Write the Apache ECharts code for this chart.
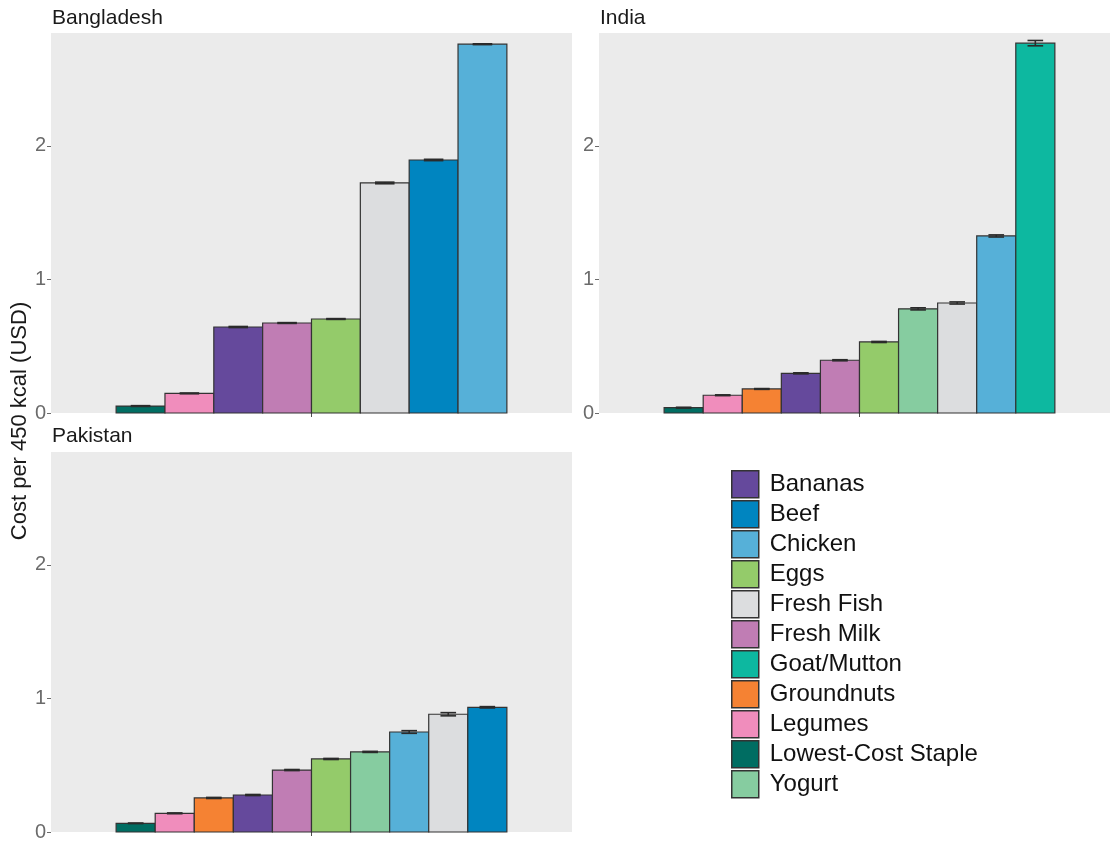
<!DOCTYPE html>
<html>
<head>
<meta charset="utf-8">
<script src="https://cdn.jsdelivr.net/npm/echarts@6/dist/echarts.min.js"></script>
<style>html,body{margin:0;padding:0;background:#fff}#c{width:1110px;height:843px}</style>
</head>
<body>
<div id="c"></div>
<script>
// ---- data ----
const foods = ["Bananas","Beef","Chicken","Eggs","Fresh Fish","Fresh Milk","Goat/Mutton","Groundnuts","Legumes","Lowest-Cost Staple","Yogurt"];
const foodColors = ["#65499c","#0085c0","#56b0d8","#94cb6a","#dcdddf","#c07db4","#0db8a0","#f58233","#f08dbc","#006d62","#86cca0"];

const bangladeshFoods = ["Lowest-Cost Staple","Legumes","Bananas","Fresh Milk","Eggs","Fresh Fish","Beef","Chicken"];
const bangladeshCost  = [0.052, 0.147, 0.644, 0.674, 0.704, 1.723, 1.895, 2.762];
const bangladeshErr   = [0.003, 0.003, 0.004, 0.003, 0.003, 0.006, 0.005, 0.003];

const indiaFoods = ["Lowest-Cost Staple","Legumes","Groundnuts","Bananas","Fresh Milk","Eggs","Yogurt","Fresh Fish","Chicken","Goat/Mutton"];
const indiaCost  = [0.040, 0.133, 0.180, 0.297, 0.395, 0.532, 0.780, 0.824, 1.326, 2.770];
const indiaErr   = [0.003, 0.003, 0.003, 0.004, 0.004, 0.004, 0.008, 0.008, 0.008, 0.020];

const pakistanFoods = ["Lowest-Cost Staple","Legumes","Groundnuts","Bananas","Fresh Milk","Eggs","Yogurt","Chicken","Fresh Fish","Beef"];
const pakistanCost  = [0.065, 0.140, 0.255, 0.277, 0.464, 0.547, 0.600, 0.749, 0.882, 0.934];
const pakistanErr   = [0.002, 0.003, 0.004, 0.004, 0.004, 0.004, 0.004, 0.010, 0.012, 0.005];

const yTicks = [0, 1, 2];
const panelTitles = ["Bangladesh", "India", "Pakistan"];
const yTitle = "Cost per 450 kcal (USD)";

// ---- build ----
const panels = [
  {foods: bangladeshFoods, cost: bangladeshCost, err: bangladeshErr},
  {foods: indiaFoods, cost: indiaCost, err: indiaErr},
  {foods: pakistanFoods, cost: pakistanCost, err: pakistanErr}
];
const gridPos = [
  {left: 51, top: 33, width: 521, height: 380},
  {left: 599, top: 33, width: 511, height: 380},
  {left: 51, top: 452, width: 521, height: 380}
];
const xMax = [1.6, 1.577, 1.6];
const YMAX = 2.846;

function colorOf(f){ return foodColors[foods.indexOf(f)]; }

const grids = gridPos.map(g => Object.assign({show: true, backgroundColor: '#ebebeb', borderWidth: 0, containLabel: false}, g));
const xAxes = gridPos.map((g, i) => ({
  type: 'value', gridIndex: i, min: 0.4, max: xMax[i],
  axisLine: {show: false}, splitLine: {show: false},
  axisTick: {show: true, customValues: [1], length: 4, lineStyle: {color: '#4d4d4d'}},
  axisLabel: {show: false}
}));
const yAxes = gridPos.map((g, i) => ({
  type: 'value', gridIndex: i, min: 0, max: YMAX,
  axisLine: {show: false}, splitLine: {show: false},
  axisTick: {show: true, customValues: yTicks, length: 4, lineStyle: {color: '#6b6b6b'}},
  axisLabel: {show: true, customValues: yTicks, fontSize: 20, color: '#6b6b6b', margin: 5, fontFamily: 'Liberation Sans, Arial'}
}));

function renderBar(params, api){
  const xc = api.value(0), v = api.value(1), e = api.value(2), w = api.value(3);
  const p0 = api.coord([xc - w/2, v]);
  const p1 = api.coord([xc + w/2, 0]);
  const capHalf = (p1[0] - p0[0]) * 0.2;
  const cx = (p0[0] + p1[0]) / 2;
  const hi = api.coord([xc, v + e])[1];
  const lo = api.coord([xc, v - e])[1];
  const col = api.visual('color');
  const ls = {stroke: '#2b2b2b', lineWidth: 1.6};
  return {type: 'group', children: [
    {type: 'rect', shape: {x: p0[0], y: p0[1], width: p1[0]-p0[0], height: p1[1]-p0[1]},
     style: {fill: col, stroke: '#333333', lineWidth: 1.2}},
    {type: 'line', shape: {x1: cx, y1: hi, x2: cx, y2: lo}, style: ls},
    {type: 'line', shape: {x1: cx-capHalf, y1: hi, x2: cx+capHalf, y2: hi}, style: ls},
    {type: 'line', shape: {x1: cx-capHalf, y1: lo, x2: cx+capHalf, y2: lo}, style: ls}
  ]};
}

const series = [];
panels.forEach((p, pi) => {
  const n = p.foods.length;
  const w = 0.9 / n;
  p.foods.forEach((f, i) => {
    series.push({
      type: 'custom', name: f, xAxisIndex: pi, yAxisIndex: pi,
      itemStyle: {color: colorOf(f), borderColor: '#333', borderWidth: 1.5},
      renderItem: renderBar,
      encode: {x: 0, y: 1},
      data: [[0.55 + (i + 0.5) * w, p.cost[i], p.err[i], w]],
      silent: true
    });
  });
});

const titlePos = [[52, 20], [600, 20], [52, 438]];
const graphic = panelTitles.map((t, i) => ({
  type: 'text', left: titlePos[i][0], top: titlePos[i][1] - 12,
  style: {text: t, fontSize: 21, fill: '#1a1a1a', fontFamily: 'Liberation Sans, Arial'}
}));
graphic.push({
  type: 'text', x: 20, y: 421, rotation: Math.PI/2,
  style: {text: yTitle, fontSize: 22, fill: '#1a1a1a', fontFamily: 'Liberation Sans, Arial', align: 'center', verticalAlign: 'middle'}
});

const chart = echarts.init(document.getElementById('c'), null, {renderer: 'canvas'});
chart.setOption({
  animation: false,
  backgroundColor: '#ffffff',
  grid: grids, xAxis: xAxes, yAxis: yAxes,
  legend: {
    orient: 'vertical', left: 731, top: 470, padding: 0,
    data: foods.map(f => ({name: f, icon: 'rect'})),
    itemWidth: 27, itemHeight: 27, itemGap: 1.5,
    itemStyle: {borderColor: '#333', borderWidth: 1.5},
    textStyle: {fontSize: 24, lineHeight: 27, color: '#111', fontFamily: 'Liberation Sans, Arial', padding: [0,0,0,6]},
    selectedMode: false
  },
  graphic: graphic,
  series: series
});
</script>
</body>
</html>
